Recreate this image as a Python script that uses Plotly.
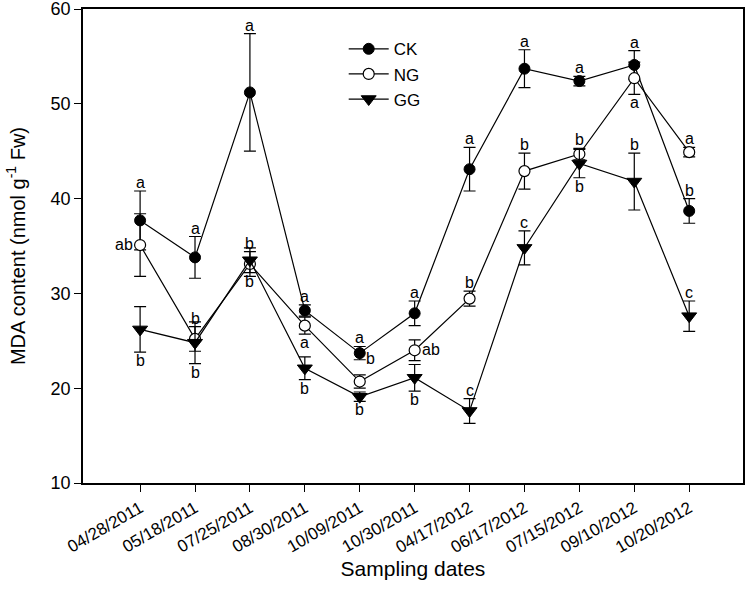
import plotly.graph_objects as go

dates = ["04/28/2011", "05/18/2011", "07/25/2011", "08/30/2011", "10/09/2011",
         "10/30/2011", "04/17/2012", "06/17/2012", "07/15/2012", "09/10/2012", "10/20/2012"]

ck = [37.7, 33.8, 51.2, 28.2, 23.7, 27.9, 43.1, 53.7, 52.4, 54.1, 38.7]
ck_err = [3.1, 2.2, 6.2, 0.6, 0.7, 1.3, 2.3, 2.0, 0.5, 1.5, 1.3]
ng = [35.1, 25.2, 33.1, 26.6, 20.7, 24.0, 29.45, 42.9, 44.7, 52.7, 44.9]
ng_err = [3.3, 1.3, 1.3, 0.9, 0.7, 1.1, 0.8, 1.9, 0.6, 1.7, 0.5]
gg = [26.2, 24.8, 33.5, 22.1, 19.1, 21.1, 17.6, 34.8, 43.7, 41.8, 27.6]
gg_err = [2.4, 2.2, 1.3, 1.2, 0.5, 1.4, 1.3, 1.8, 1.5, 3.0, 1.6]

ck_letters = ["a", "a", "a", "a", "a", "a", "a", "a", "a", "a", "b"]
ck_pos = ["above"] * 11
ng_letters = ["ab", "b", "b", "a", "b", "ab", "b", "b", "b", "a", "a"]
ng_pos = ["left", "above", "above", "below", "aboveright", "right", "above", "above", "above", "below", "above"]
gg_letters = ["b", "b", "b", "b", "b", "b", "c", "c", "b", "b", "c"]
gg_pos = ["below", "below", "below", "below", "below", "below", "above", "above", "below", "above", "above"]

fig = go.Figure()

series = [
    ("CK", ck, ck_err, dict(symbol="circle", size=11, color="black", line=dict(color="black", width=1))),
    ("NG", ng, ng_err, dict(symbol="circle", size=11, color="white", line=dict(color="black", width=1.2))),
    ("GG", gg, gg_err, dict(symbol="triangle-down", size=13, color="black", line=dict(color="black", width=1))),
]

for name, vals, errs, mk in series:
    fig.add_trace(go.Scatter(
        x=list(range(len(dates))), y=vals, name=name, mode="lines+markers",
        line=dict(color="black", width=1.2), marker=mk,
        error_y=dict(type="data", array=errs, visible=True, color="black", thickness=1.2, width=6),
    ))

font_l = dict(family="Liberation Sans, Arial", size=16, color="black")

def add_letters(vals, errs, letters, pos):
    for i, (v, e, t, p) in enumerate(zip(vals, errs, letters, pos)):
        if p == "above":
            fig.add_annotation(x=i, y=v + e, text=t, showarrow=False, yanchor="bottom", yshift=-2, font=font_l)
        elif p == "below":
            fig.add_annotation(x=i, y=v - e, text=t, showarrow=False, yanchor="top", yshift=2, font=font_l)
        elif p == "left":
            fig.add_annotation(x=i, y=v, text=t, showarrow=False, xanchor="right", xshift=-5, yshift=1, font=font_l)
        elif p == "right":
            fig.add_annotation(x=i, y=v, text=t, showarrow=False, xanchor="left", xshift=5, yshift=1, font=font_l)
        elif p == "aboveright":
            fig.add_annotation(x=i, y=v + e, text=t, showarrow=False, xanchor="left", yanchor="bottom",
                               xshift=4, yshift=6, font=font_l)

add_letters(ck, ck_err, ck_letters, ck_pos)
add_letters(ng, ng_err, ng_letters, ng_pos)
add_letters(gg, gg_err, gg_letters, gg_pos)

fig.update_layout(
    width=746, height=607,
    margin=dict(l=83, r=3, t=9, b=124, autoexpand=False),
    plot_bgcolor="white", paper_bgcolor="white",
    font=dict(family="Liberation Sans, Arial", size=16, color="black"),
    showlegend=True,
    legend=dict(x=0.395, y=0.953, xanchor="left", yanchor="top", bgcolor="rgba(0,0,0,0)",
                font=dict(size=17), itemwidth=40, tracegroupgap=0),
)
fig.update_xaxes(
    range=[-1.04, 10.98], tickmode="array", tickvals=list(range(len(dates))), ticktext=dates,
    tickangle=-30, ticks="outside", ticklen=7, tickwidth=1.2, tickcolor="black",
    showline=True, linecolor="black", linewidth=1.5, mirror=True, showgrid=False, zeroline=False,
    tickfont=dict(size=17), automargin=False,
    title=dict(text="Sampling dates", font=dict(size=21), standoff=2),
)
fig.update_yaxes(
    range=[10, 60], tickmode="array", tickvals=[10, 20, 30, 40, 50, 60],
    ticks="outside", ticklen=7, tickwidth=1.2, tickcolor="black",
    showline=True, linecolor="black", linewidth=1.5, mirror=True, showgrid=False, zeroline=False,
    tickfont=dict(size=18), automargin=False, ticklabeloverflow="allow",
    title=dict(text="MDA content (nmol g<sup>-1</sup> Fw)", font=dict(size=20), standoff=20),
)

fig.write_html("out.html", config={"displayModeBar": False},
               post_script="document.body.style.margin='0';")
